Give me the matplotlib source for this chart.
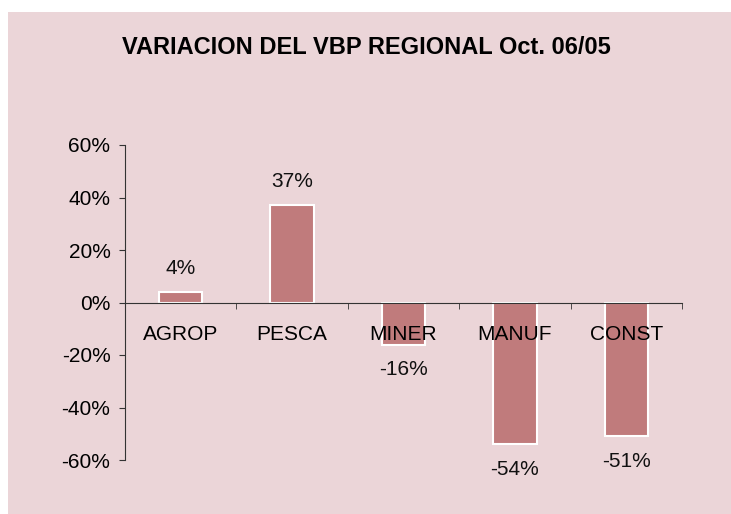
import matplotlib.pyplot as plt
import matplotlib.patches as mpatches
import numpy as np

categories = ['AGROP', 'PESCA', 'MINER', 'MANUF', 'CONST']
values = [0.04, 0.37, -0.16, -0.54, -0.51]
labels = ['4%', '37%', '-16%', '-54%', '-51%']
yticks = [-0.6, -0.4, -0.2, 0.0, 0.2, 0.4, 0.6]
ytick_labels = ['-60%', '-40%', '-20%', '0%', '20%', '40%', '60%']

plt.rcParams['font.family'] = ['Liberation Sans', 'DejaVu Sans']

fig = plt.figure(figsize=(7.31, 5.14), dpi=100)
fig.patch.set_facecolor('white')
# pink chart area (starts a little in from the top-left corner)
fig.patches.append(mpatches.Rectangle((8 / 731, 0), 1, 1 - 12 / 514,
                                      transform=fig.transFigure,
                                      facecolor='#ebd5d8', edgecolor='none', zorder=-10))

ax = fig.add_axes([125 / 731, 54 / 514, 557 / 731, 315 / 514])
ax.set_facecolor('none')
ax.set_axisbelow(False)  # category names are written over the bars

x = np.arange(len(categories))
ax.bar(x, values, width=0.39, color='#c07b7c', edgecolor='white', linewidth=1.5, zorder=2)

for xi, v, lab in zip(x, values, labels):
    off = 17 if v > 0 else -18
    ax.annotate(lab, (xi, v), xytext=(0, off), textcoords='offset points',
                ha='center', va='center', fontsize=15, color='#111111')

ax.set_xlim(-0.5, len(categories) - 0.5)
ax.set_ylim(-0.6, 0.6)
ax.set_yticks(yticks)
ax.set_yticklabels(ytick_labels, fontsize=15)

ax.spines['top'].set_visible(False)
ax.spines['right'].set_visible(False)
ax.spines['bottom'].set_position(('data', 0))
ax.spines['left'].set_color('#333333')
ax.spines['bottom'].set_color('#333333')
ax.spines['bottom'].set_zorder(3)

ax.set_xticks(x)
ax.set_xticklabels(categories, fontsize=15)
ax.tick_params(axis='x', which='major', length=0, pad=16)
ax.set_xticks(np.arange(-0.5, len(categories)), minor=True)
ax.tick_params(axis='x', which='minor', length=4, direction='out', color='#333333')
ax.tick_params(axis='y', length=4.5, color='#333333', pad=6)

fig.text(366 / 731, 1 - 47 / 514, 'VARIACION DEL VBP REGIONAL Oct. 06/05',
         ha='center', va='center', fontsize=17, fontweight='bold')

plt.savefig('out.png', dpi=100)
